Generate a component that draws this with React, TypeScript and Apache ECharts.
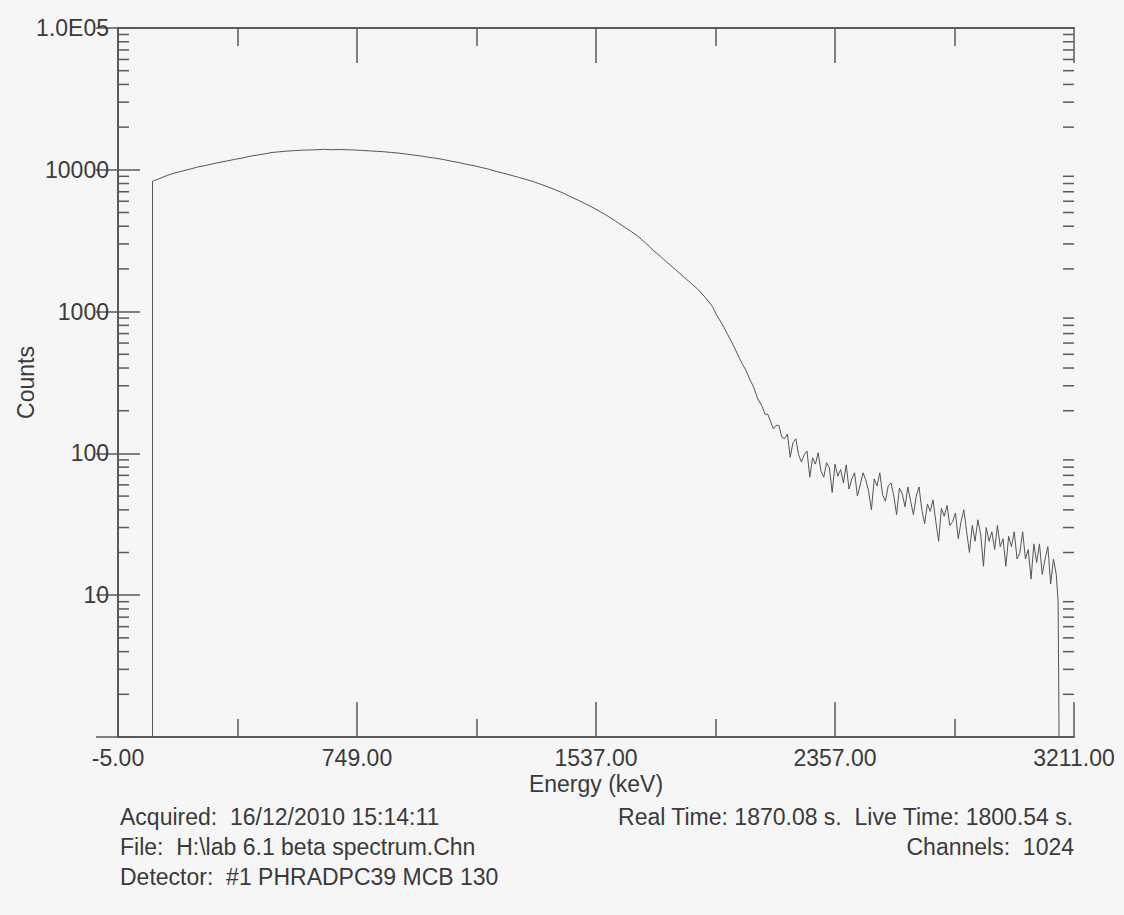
import React, { useEffect, useRef } from "react";
import * as echarts from "echarts";

// Spectrum: channel number (0..1024) and counts per channel
const channels = [
  37, 37, 45, 53, 61, 69, 77, 85, 93, 101, 109, 117, 125, 133, 141, 149, 157, 165, 173, 181,
  189, 197, 205, 213, 221, 229, 237, 245, 253, 261, 269, 277, 285, 293, 301, 309, 317, 325,
  333, 341, 349, 357, 365, 373, 381, 389, 397, 405, 413, 421, 429, 437, 445, 453, 461, 469,
  477, 485, 493, 501, 509, 517, 525, 533, 541, 549, 557, 565, 573, 581, 589, 597, 605, 613,
  621, 629, 637,
  641, 645, 649, 653, 657, 661, 665, 669, 673, 677, 681, 685,
  690, 693, 696, 699, 702, 705, 708, 711, 714, 717, 720, 723, 726, 729, 732, 735, 738, 741,
  744, 747, 750, 753, 756, 759, 762, 765, 768, 771, 774, 777, 780, 783, 786, 789, 792, 795,
  798, 801, 804, 807, 810, 813, 816, 819, 822, 825, 828, 831, 834, 837, 840, 843, 846, 849,
  852, 855, 858, 861, 864, 867, 870, 873, 876, 879, 882, 885, 888, 891, 894, 897, 900, 903,
  906, 909, 912, 915, 918, 921, 924, 927, 930, 933, 936, 939, 942, 945, 948, 951, 954, 957,
  960, 963, 966, 969, 972, 975, 978, 981, 984, 987, 990, 993, 996, 999, 1002, 1005,
  1007, 1008,
];
const counts = [
  1, 8300, 8700, 9150, 9500, 9800, 10100, 10450, 10700, 11000, 11300, 11550, 11850, 12100, 12450,
  12700, 12950, 13250, 13400, 13550, 13650, 13750, 13800, 13850, 13950, 13850, 13900, 13850,
  13800, 13700, 13600, 13500, 13400, 13250, 13100, 12900, 12700, 12500, 12250, 12050, 11800,
  11500, 11250, 10950, 10700, 10400, 10100, 9750, 9450, 9150, 8850, 8550, 8250, 7900, 7550,
  7200, 6850, 6450, 6100, 5750, 5400, 5050, 4700, 4350, 4000, 3700, 3400, 3050, 2720, 2450,
  2200, 1980, 1780, 1600, 1440, 1260, 1080,
  950, 860, 775, 690, 615, 545, 478, 425, 380, 330, 292, 245,
  214, 189, 189, 168, 149, 158, 157, 130, 127, 137, 94, 119, 127, 98, 87, 98, 104, 68,
  93, 84, 101, 75, 68, 86, 79, 53, 84, 69, 77, 62, 83, 56, 66, 73, 50, 60,
  73, 65, 54, 40, 66, 59, 73, 51, 46, 59, 62, 50, 37, 57, 52, 42, 58, 46,
  37, 50, 58, 40, 32, 44, 39, 47, 33, 24, 41, 36, 43, 31, 33, 38, 25, 33,
  40, 28, 20, 31, 24, 34, 27, 16, 30, 24, 28, 21, 31, 22, 25, 16, 26, 22,
  28, 18, 20, 28, 18, 21, 13, 23, 17, 23, 14, 18, 22, 12, 18, 14,
  9, 1,
];

// Axis ticks and labels
const xTickChannels = [0, 256, 512, 768, 1024];
const xTickLabels = ["-5.00", "749.00", "1537.00", "2357.00", "3211.00"];
const yDecades = [1, 10, 100, 1000, 10000, 100000];
const yDecadeLabels = ["", "10", "100", "1000", "10000", "1.0E05"];
const yMinorMultipliers = [2, 3, 4, 5, 6, 7, 8, 9];

// Footer texts
const footerLeft = [
  "Acquired:  16/12/2010 15:14:11",
  "File:  H:\\lab 6.1 beta spectrum.Chn",
  "Detector:  #1 PHRADPC39 MCB 130",
];
const footerRight = ["Real Time: 1870.08 s.  Live Time: 1800.54 s.", "Channels:  1024"];

const FONT = "'Liberation Sans', Arial, Helvetica, sans-serif";
const TXT = "#3a3a3a";
const LINE = "#5a5a5a";

export default function App() {
  const ref = useRef<HTMLDivElement>(null);

  useEffect(() => {
    if (!ref.current) return;
    const chart = echarts.init(ref.current, null, { renderer: "svg" });

    const minorTicks: number[][] = [];
    for (let d = 0; d < yDecades.length - 1; d++) {
      for (const m of yMinorMultipliers) minorTicks.push([0, yDecades[d] * m]);
    }

    const xAxisBase = {
      type: "value",
      min: 0,
      max: 1024,
      interval: 256,
      splitLine: { show: false },
      axisLine: { show: true, lineStyle: { color: LINE, width: 2 } },
      axisTick: { show: true, inside: true, length: 35, lineStyle: { color: LINE, width: 1.5 } },
      minorTick: { show: true, splitNumber: 2, length: 18, lineStyle: { color: LINE, width: 1.5 } },
      minorSplitLine: { show: false },
    };

    const yAxisBase = {
      type: "log",
      logBase: 10,
      min: 1,
      max: 100000,
      splitLine: { show: false },
      axisLine: { show: true, lineStyle: { color: LINE, width: 2 } },
      axisTick: { show: true, inside: true, length: 22, lineStyle: { color: LINE, width: 1.5 } },
    };

    chart.setOption({
      animation: false,
      backgroundColor: "#f6f6f6",
      grid: { left: 118, top: 28, right: 50, bottom: 178, outerBoundsMode: "none", containLabel: false },
      xAxis: [
        {
          ...xAxisBase,
          position: "bottom",
          name: "Energy (keV)",
          nameLocation: "middle",
          nameGap: 35,
          nameMoveOverlap: false,
          nameTextStyle: { fontFamily: FONT, fontSize: 23, color: TXT },
          axisLabel: {
            show: true,
            margin: 9,
            showMinLabel: true,
            showMaxLabel: true,
            fontFamily: FONT,
            fontSize: 23,
            color: TXT,
            formatter: (v: number) => {
              const i = xTickChannels.indexOf(Math.round(v));
              return i >= 0 ? xTickLabels[i] : "";
            },
          },
        },
        {
          ...xAxisBase,
          position: "top",
          axisLabel: { show: false },
        },
      ],
      yAxis: [
        {
          ...yAxisBase,
          position: "left",
          name: "Counts",
          nameLocation: "middle",
          nameGap: 81,
          nameRotate: 90,
          nameMoveOverlap: false,
          nameTextStyle: { fontFamily: FONT, fontSize: 23, color: TXT },
          axisLabel: {
            show: true,
            margin: 9,
            showMinLabel: true,
            showMaxLabel: true,
            fontFamily: FONT,
            fontSize: 23,
            color: TXT,
            formatter: (v: number) => {
              const i = yDecades.indexOf(Math.round(v));
              return i >= 0 ? yDecadeLabels[i] : "";
            },
          },
        },
        {
          ...yAxisBase,
          position: "right",
          axisLabel: { show: false },
        },
      ],
      series: [
        {
          type: "line",
          xAxisIndex: 0,
          yAxisIndex: 0,
          data: channels.map((c, i) => [c, counts[i]]),
          showSymbol: false,
          symbol: "none",
          lineStyle: { color: "#555555", width: 1 },
          silent: true,
          z: 3,
        },
        {
          type: "custom",
          xAxisIndex: 0,
          yAxisIndex: 0,
          silent: true,
          clip: false,
          data: minorTicks,
          renderItem: (params: any, api: any) => {
            const p = api.coord([0, api.value(1)]);
            const cs = params.coordSys;
            const style = { stroke: LINE, lineWidth: 1.5 };
            return {
              type: "group",
              children: [
                { type: "line", shape: { x1: cs.x, y1: p[1], x2: cs.x + 11, y2: p[1] }, style },
                {
                  type: "line",
                  shape: { x1: cs.x + cs.width, y1: p[1], x2: cs.x + cs.width - 11, y2: p[1] },
                  style,
                },
              ],
            };
          },
        },
      ],
      graphic: [
        ...footerLeft.map((t, i) => ({
          type: "text",
          left: 120,
          top: 805 + i * 30,
          style: { text: t, fontFamily: FONT, fontSize: 23, fill: TXT },
        })),
        ...footerRight.map((t, i) => ({
          type: "text",
          right: 50,
          top: 805 + i * 30,
          style: { text: t, fontFamily: FONT, fontSize: 23, fill: TXT },
        })),
      ],
    });

    return () => chart.dispose();
  }, []);

  return (
    <div
      ref={ref}
      style={{ position: "absolute", left: 0, top: 0, width: 1124, height: 915 }}
    />
  );
}
